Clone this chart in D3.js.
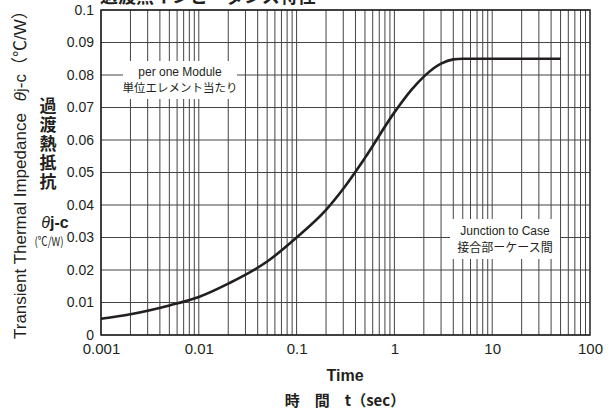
<!DOCTYPE html>
<html>
<head>
<meta charset="utf-8">
<script src="https://cdn.jsdelivr.net/npm/d3@7"></script>
<style>
  body { margin: 0; background: #fff; }
  text { font-family: "Liberation Sans", "Noto Sans CJK JP", sans-serif; fill: #231f20; }
  .jp { font-family: "Noto Sans CJK JP", sans-serif; }
</style>
</head>
<body>
<div id="chart"></div>
<script>
// curve: time (sec) -> thermal impedance (C/W)
const times  = [0.001, 0.002, 0.005, 0.01, 0.02, 0.05, 0.1, 0.2, 0.3, 0.5, 1, 1.5, 2, 2.5, 3, 4, 5, 50];
const values = [0.0050, 0.0064, 0.0091, 0.0117, 0.0158, 0.0226, 0.0300, 0.0385, 0.0450, 0.0545, 0.0685, 0.0755, 0.0795, 0.0820, 0.0835, 0.0848, 0.0850, 0.0850];
const xTicks = [0.001, 0.01, 0.1, 1, 10, 100];
const xTickLabels = ["0.001", "0.01", "0.1", "1", "10", "100"];
const yTicks = [0, 0.01, 0.02, 0.03, 0.04, 0.05, 0.06, 0.07, 0.08, 0.09, 0.1];

const width = 614, height = 414;
const margin = {left: 101, right: 24, top: 10, bottom: 79};

const svg = d3.select("#chart").append("svg")
  .attr("width", width)
  .attr("height", height);

const x = d3.scaleLog().domain([0.001, 100]).range([margin.left, width - margin.right]);
const y = d3.scaleLinear().domain([0, 0.1]).range([height - margin.bottom, margin.top]);

// minor vertical grid (1..9 each decade)
const gridX = [];
for (let e = -3; e < 2; e++) for (let k = 1; k < 10; k++) gridX.push(k * Math.pow(10, e));

svg.append("g")
  .selectAll("line")
  .data(gridX)
  .enter().append("line")
  .attr("x1", d => x(d)).attr("x2", d => x(d))
  .attr("y1", y(0)).attr("y2", y(0.1))
  .attr("stroke", "#444")
  .attr("stroke-width", 1);

svg.append("g")
  .selectAll("line")
  .data(yTicks)
  .enter().append("line")
  .attr("x1", x(0.001)).attr("x2", x(100))
  .attr("y1", d => y(d)).attr("y2", d => y(d))
  .attr("stroke", "#444")
  .attr("stroke-width", 1);

// white boxes behind notes
svg.append("rect").attr("x", 123).attr("y", 61).attr("width", 114).attr("height", 38).attr("fill", "#fff");
svg.append("rect").attr("x", 450).attr("y", 219).attr("width", 110).attr("height", 40).attr("fill", "#fff");

// frame
svg.append("rect")
  .attr("x", x(0.001)).attr("y", y(0.1))
  .attr("width", x(100) - x(0.001)).attr("height", y(0) - y(0.1))
  .attr("fill", "none").attr("stroke", "#231f20").attr("stroke-width", 1.5);

// curve
const line = d3.line()
  .x((d, i) => x(times[i]))
  .y(d => y(d))
  .curve(d3.curveMonotoneX);

svg.append("path")
  .datum(values)
  .attr("d", line)
  .attr("fill", "none")
  .attr("stroke", "#231f20")
  .attr("stroke-width", 2.6);

// axes (labels only, no domain)
const xAxis = svg.append("g")
  .attr("transform", `translate(0,${y(0)})`)
  .call(d3.axisBottom(x).tickValues(xTicks).tickFormat((d, i) => xTickLabels[i]).tickSize(0).tickPadding(8));
xAxis.select(".domain").remove();
xAxis.selectAll("text").style("font-size", "15px").attr("fill", "#231f20");

const yAxis = svg.append("g")
  .attr("transform", `translate(${x(0.001)},0)`)
  .call(d3.axisLeft(y).tickValues(yTicks).tickFormat(d => d === 0 ? "0" : d3.format(".2~f")(d)).tickSize(0).tickPadding(7));
yAxis.select(".domain").remove();
yAxis.selectAll("text").style("font-size", "14px").attr("fill", "#231f20");

// notes
svg.append("text").attr("x", 180).attr("y", 76).attr("text-anchor", "middle")
  .style("font-size", "12px").text("per one Module");
svg.append("text").attr("x", 180).attr("y", 92).attr("text-anchor", "middle").attr("class", "jp")
  .style("font-size", "11.5px").text("単位エレメント当たり");
svg.append("text").attr("x", 505).attr("y", 235).attr("text-anchor", "middle")
  .style("font-size", "12px").text("Junction to Case");
svg.append("text").attr("x", 505).attr("y", 252).attr("text-anchor", "middle").attr("class", "jp")
  .style("font-size", "12px").text("接合部ーケース間");

// x titles
svg.append("text").attr("x", 345).attr("y", 381).attr("text-anchor", "middle")
  .style("font-size", "16px").style("font-weight", "bold").text("Time");
svg.append("text").attr("x", 345).attr("y", 406).attr("text-anchor", "middle").attr("class", "jp")
  .style("font-size", "15px").style("font-weight", "bold").text("時　間　t（sec）");

// y titles
svg.append("text")
  .attr("transform", "translate(26,339) rotate(-90)")
  .style("font-size", "17px")
  .html("Transient Thermal Impedance<tspan dx='12' font-style='italic'>θ</tspan>j-c（℃/W）");

svg.append("text")
  .attr("class", "jp")
  .attr("x", 48).attr("y", 97)
  .style("writing-mode", "vertical-rl")
  .style("font-size", "17px").style("font-weight", "bold")
  .style("letter-spacing", "2px")
  .text("過渡熱抵抗");

svg.append("text").attr("x", 55).attr("y", 228).attr("text-anchor", "middle")
  .style("font-size", "16px").style("font-weight", "bold")
  .html("<tspan font-style='italic' font-weight='normal'>θ</tspan>j-c");
svg.append("text").attr("x", 49).attr("y", 246).attr("text-anchor", "middle").attr("class", "jp")
  .style("font-size", "12px").attr("textLength", 29).attr("lengthAdjust", "spacingAndGlyphs")
  .text("(℃/W)");

// cut-off title at the very top
svg.append("text").attr("x", 100).attr("y", 3)
  .attr("class", "jp")
  .style("font-size", "18px").style("font-weight", "bold")
  .text("過渡熱インピーダンス特性");
</script>
</body>
</html>
